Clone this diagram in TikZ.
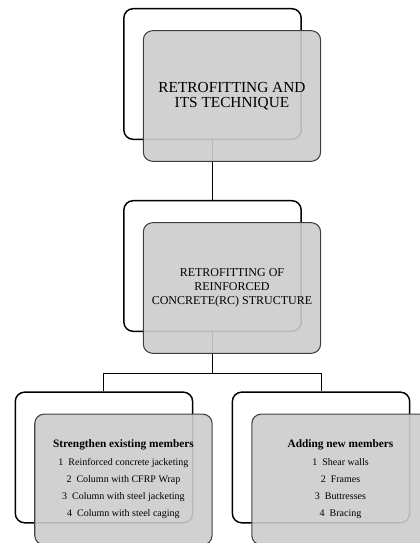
\documentclass[tikz,border=0pt]{standalone}
\usepackage{fontspec}
\setmainfont{Liberation Serif}
\usetikzlibrary{positioning}

\begin{document}
\begin{tikzpicture}[x=0.75pt,y=0.75pt,node distance=144pt,on grid,
    back/.style={draw,line width=1.1pt,rounded corners=7pt,minimum width=133pt,minimum height=98pt},
    front/.style={draw=black!75,line width=0.8pt,rounded corners=7pt,fill=black!20,fill opacity=0.9,text opacity=1,
        minimum width=133pt,minimum height=98pt,align=center},
    link/.style={draw,line width=0.8pt}]
    \useasboundingbox (-212.5,74) rectangle (206.5,-469);
    % outline boxes behind
    \node[back] (b1) {};
    \node[back] (b2) [below=of b1] {};
    \node[back] (b3) [below left=143.6pt and 81.4pt of b2] {};
    \node[back] (b4) [below right=143.6pt and 81.4pt of b2] {};
    % tree lines
    \coordinate (fork) at ([yshift=-30.75pt]b2.south);
    \draw[link] (b1.south) -- (b2.north);
    \draw[link] (b2.south) -- (fork);
    \draw[link] (b3.north) |- (fork) -| (b4.north);
    % grey boxes in front
    \node[front,font=\fontsize{11.5}{11.5}\selectfont] (f1) [below right=16.5pt and 14.6pt of b1]
        {RETROFITTING AND\\ITS TECHNIQUE};
    \node[front,font=\fontsize{9}{10.5}\selectfont] (f2) [below right=16.5pt and 14.6pt of b2]
        {RETROFITTING OF\\REINFORCED\\CONCRETE(RC) STRUCTURE};
    \node[front,font=\fontsize{7.5}{12.75}\selectfont] (f3) [below right=16.5pt and 14.6pt of b3]
        {{\fontsize{8.5}{12.75}\selectfont\bfseries Strengthen existing members}\\[1pt]
         1\enspace Reinforced concrete jacketing\\
         2\enspace Column with CFRP Wrap\\
         3\enspace Column with steel jacketing\\
         4\enspace Column with steel caging};
    \node[front,font=\fontsize{7.5}{12.75}\selectfont] (f4) [below right=16.5pt and 14.6pt of b4]
        {{\fontsize{8.5}{12.75}\selectfont\bfseries Adding new members}\\[1pt]
         1\enspace Shear walls\\
         2\enspace Frames\\
         3\enspace Buttresses\\
         4\enspace Bracing};
\end{tikzpicture}
\end{document}
